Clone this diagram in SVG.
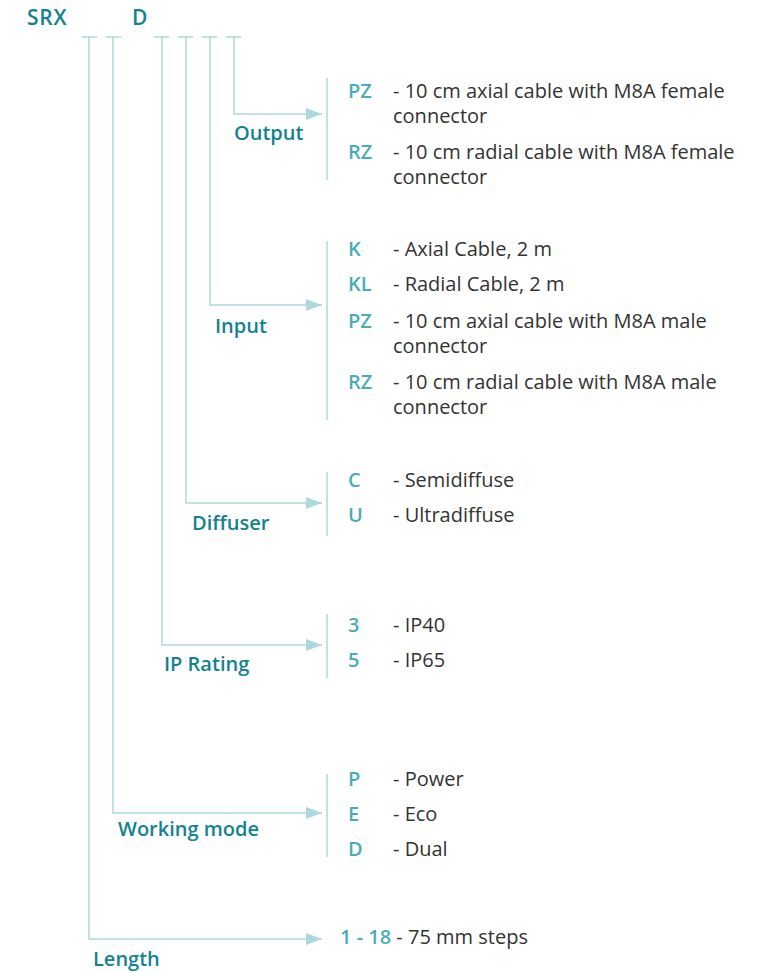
<svg xmlns="http://www.w3.org/2000/svg" width="765" height="973" viewBox="0 0 765 973">
<defs>
<style>
.ln{stroke:#acd9de;stroke-width:1.5;fill:none}
.br{stroke:#acd9de;stroke-width:1.5;fill:none}
.hd{font-family:"Open Sans","Liberation Sans",sans-serif;font-weight:600;font-size:21px;letter-spacing:0.8px;fill:#12838f}
.lb{font-family:"Open Sans","Liberation Sans",sans-serif;font-weight:600;font-size:20px;fill:#12838f}
.cd{font-family:"Open Sans","Liberation Sans",sans-serif;font-weight:600;font-size:20px;fill:#4aacb8}
.ds{font-family:"Open Sans","Liberation Sans",sans-serif;font-weight:400;font-size:20px;fill:#333333}
</style>
<marker id="ah" markerWidth="16" markerHeight="12" refX="16" refY="6" orient="auto" markerUnits="userSpaceOnUse">
<path d="M0,0 L16,6 L0,12 Z" fill="#acd9de"/>
</marker>
</defs>
<rect width="765" height="973" fill="#ffffff"/>
<g id="title">
<text class="hd" x="27" y="25">SRX</text>
<text class="hd" x="132" y="25">D</text>
</g>
<g id="connectors">
<path class="ln" d="M82,37 H97 M106,37 H121 M154,37 H169 M178,37 H193 M202,37 H217 M226,37 H241"/>
<path class="ln" d="M234,37 V114 H322" marker-end="url(#ah)"/>
<path class="ln" d="M210,37 V305 H322" marker-end="url(#ah)"/>
<path class="ln" d="M186,37 V503 H322" marker-end="url(#ah)"/>
<path class="ln" d="M162,37 V645 H322" marker-end="url(#ah)"/>
<path class="ln" d="M113,37 V813 H322" marker-end="url(#ah)"/>
<path class="ln" d="M89,37 V939 H322" marker-end="url(#ah)"/>
</g>
<g id="output">
<path class="br" d="M327,78 V180"/>
<text class="lb" x="234" y="140">Output</text>
<text class="cd" x="348" y="98">PZ</text>
<text class="ds" x="393" y="98">- 10 cm axial cable with M8A female</text>
<text class="ds" x="393" y="123">connector</text>
<text class="cd" x="348" y="159">RZ</text>
<text class="ds" x="393" y="159">- 10 cm radial cable with M8A female</text>
<text class="ds" x="393" y="184">connector</text>
</g>
<g id="input">
<path class="br" d="M327,241 V420"/>
<text class="lb" x="215" y="333">Input</text>
<text class="cd" x="348" y="256">K</text>
<text class="ds" x="393" y="256">- Axial Cable, 2 m</text>
<text class="cd" x="348" y="291">KL</text>
<text class="ds" x="393" y="291">- Radial Cable, 2 m</text>
<text class="cd" x="348" y="328">PZ</text>
<text class="ds" x="393" y="328">- 10 cm axial cable with M8A male</text>
<text class="ds" x="393" y="353">connector</text>
<text class="cd" x="348" y="389">RZ</text>
<text class="ds" x="393" y="389">- 10 cm radial cable with M8A male</text>
<text class="ds" x="393" y="414">connector</text>
</g>
<g id="diffuser">
<path class="br" d="M327,472 V536"/>
<text class="lb" x="192" y="530">Diffuser</text>
<text class="cd" x="348" y="487">C</text>
<text class="ds" x="393" y="487">- Semidiffuse</text>
<text class="cd" x="348" y="522">U</text>
<text class="ds" x="393" y="522">- Ultradiffuse</text>
</g>
<g id="ip-rating">
<path class="br" d="M327,614 V678"/>
<text class="lb" x="164" y="671">IP Rating</text>
<text class="cd" x="348" y="632">3</text>
<text class="ds" x="393" y="632">- IP40</text>
<text class="cd" x="348" y="667">5</text>
<text class="ds" x="393" y="667">- IP65</text>
</g>
<g id="working-mode">
<path class="br" d="M327,774 V857"/>
<text class="lb" x="118" y="836">Working mode</text>
<text class="cd" x="348" y="786">P</text>
<text class="ds" x="393" y="786">- Power</text>
<text class="cd" x="348" y="821">E</text>
<text class="ds" x="393" y="821">- Eco</text>
<text class="cd" x="348" y="856">D</text>
<text class="ds" x="393" y="856">- Dual</text>
</g>
<g id="length">
<text class="lb" x="93" y="966">Length</text>
<text x="340" y="944"><tspan class="cd">1 - 18</tspan><tspan class="ds"> - 75 mm steps</tspan></text>
</g>
</svg>
